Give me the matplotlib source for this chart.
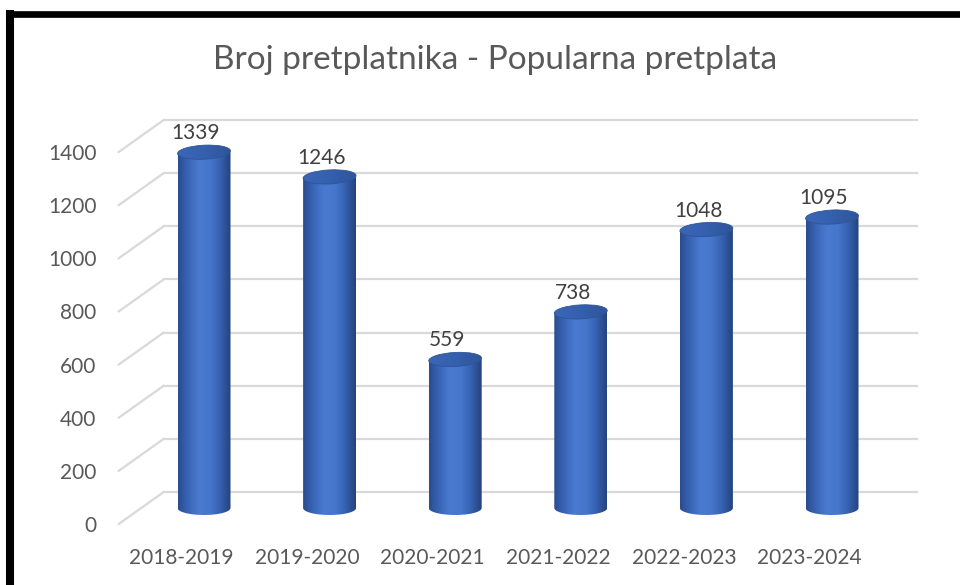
import numpy as np
import matplotlib
matplotlib.use("Agg")
import matplotlib.pyplot as plt
from matplotlib.patches import Ellipse, Polygon
from matplotlib.lines import Line2D
from matplotlib.transforms import IdentityTransform
from matplotlib.colors import LinearSegmentedColormap

plt.rcParams['font.family'] = ['Lato', 'DejaVu Sans']

categories = ['2018-2019', '2019-2020', '2020-2021', '2021-2022', '2022-2023', '2023-2024']
values = [1339, 1246, 559, 738, 1048, 1095]
yticks = [0, 200, 400, 600, 800, 1000, 1200, 1400]
title = 'Broj pretplatnika - Popularna pretplata'

W, H = 960, 585
fig = plt.figure(figsize=(W / 100, H / 100), dpi=100)
ax = fig.add_axes([118.7 / W, 61 / H, 753.6 / W, 372 / H])
ax.set_xlim(-0.5, len(categories) - 0.5)
ax.set_ylim(0, 1400)
for s in ax.spines.values():
    s.set_visible(False)
ax.set_facecolor('none')

txt = '#595959'
ax.set_yticks(yticks)
ax.set_yticklabels([str(t) for t in yticks])
ax.set_xticks(range(len(categories)))
ax.set_xticklabels(categories)
ax.tick_params(axis='y', length=0, pad=16, labelsize=15, labelcolor=txt)
ax.tick_params(axis='x', length=0, pad=17, labelsize=15, labelcolor=txt)

fig.canvas.draw()
ident = IdentityTransform()
depth = np.array([45.0, 32.0])   # back-wall offset in pixels
mid = depth / 2


def px(x, y):
    return ax.transData.transform((x, y))


grid_c = '#d9d9d9'
x0, x1 = ax.get_xlim()
for t in yticks:
    a = px(x0, t)
    b = px(x1, t)
    # side wall
    ax.add_line(Line2D([a[0], a[0] + depth[0]], [a[1], a[1] + depth[1]],
                       transform=ident, color=grid_c, lw=1.6, zorder=1, clip_on=False))
    # back wall
    ax.add_line(Line2D([a[0] + depth[0], b[0] + depth[0]],
                       [a[1] + depth[1], b[1] + depth[1]],
                       transform=ident, color=grid_c, lw=1.6, zorder=1, clip_on=False))

body_cmap = LinearSegmentedColormap.from_list(
    'body', ['#2a4c8e', '#3a66b8', '#4a7ad0', '#4677cc', '#3561b0', '#25427c'])
top_cmap = LinearSegmentedColormap.from_list('top', ['#3b66b6', '#3560ae', '#2f5599'])
grad = np.linspace(0, 1, 256).reshape(1, -1)

cw = 53.0   # cylinder width px
eh = 14.0   # ellipse height px
for i, v in enumerate(values):
    b = px(i, 0) + mid
    t = px(i, v) + mid
    cx = b[0]
    # body: rectangle plus lower half ellipse
    th = np.linspace(np.pi, 2 * np.pi, 40)
    bottom_arc = np.column_stack([cx + cw / 2 * np.cos(th), b[1] + eh / 2 * np.sin(th)])
    poly = np.vstack([[cx - cw / 2, t[1]], bottom_arc, [cx + cw / 2, t[1]]])
    clip = Polygon(poly, closed=True, transform=ident, facecolor='none',
                   edgecolor='none', clip_on=False)
    ax.add_patch(clip)
    im = ax.imshow(grad, cmap=body_cmap, aspect='auto', transform=ident,
                   extent=(cx - cw / 2, cx + cw / 2, b[1] - eh, t[1]), zorder=3)
    im.set_clip_box(fig.bbox)
    im.set_clip_path(clip)
    # top cap
    cap = Ellipse((cx, t[1]), cw, eh, angle=3, transform=ident,
                  facecolor='none', edgecolor='#2f5496', lw=0.6, zorder=5, clip_on=False)
    ax.add_patch(cap)
    im2 = ax.imshow(grad, cmap=top_cmap, aspect='auto', transform=ident,
                    extent=(cx - cw / 2, cx + cw / 2, t[1] - eh, t[1] + eh), zorder=4)
    im2.set_clip_box(fig.bbox)
    im2.set_clip_path(cap)
    ax.text(cx - 8, t[1] + eh / 2 + 6, str(v), transform=ident, ha='center',
            va='baseline', fontsize=15, color='#404040', zorder=6)

ax.set_xlim(-0.5, len(categories) - 0.5)
ax.set_ylim(0, 1400)

fig.text(495 / W, 1 - 60 / H, title, ha='center', va='center', fontsize=24, color=txt)

# chart frame
fig.add_artist(Line2D([10 / W, 10 / W], [0, 1 - 10 / H], color='black', lw=5.8,
                      solid_capstyle='butt', transform=fig.transFigure))
fig.add_artist(Line2D([6 / W, 1], [1 - 14 / H, 1 - 14 / H], color='black', lw=4.8,
                      solid_capstyle='butt', transform=fig.transFigure))

fig.savefig('out.png', dpi=100)
